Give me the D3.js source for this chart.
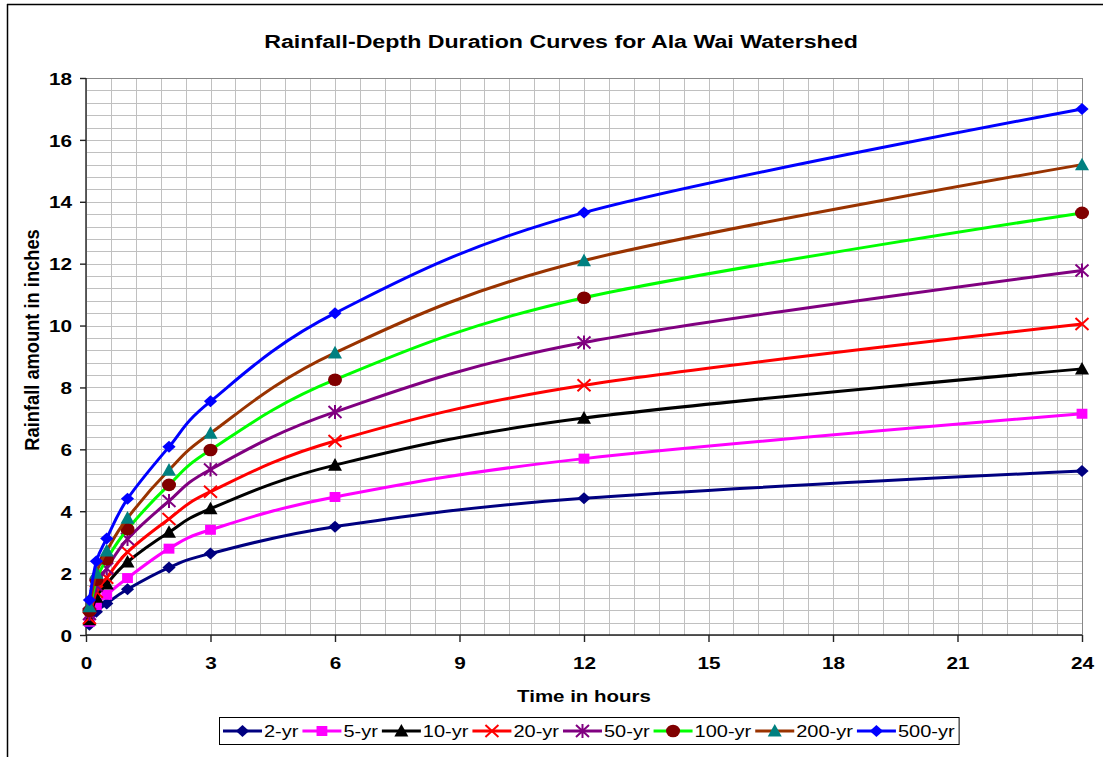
<!DOCTYPE html>
<html>
<head>
<meta charset="utf-8">
<script src="https://cdn.jsdelivr.net/npm/d3@7"></script>
<style>
  html, body { margin: 0; padding: 0; background: #fff; }
  svg { display: block; }
  text { font-family: Arial, "Liberation Sans", sans-serif; fill: #000; }
</style>
</head>
<body>
<svg id="chart" width="1103" height="757"></svg>
<script>
// ---------- data ----------
const hours = [0.083, 0.25, 0.5, 1, 2, 3, 6, 12, 24];
const seriesNames = ["2-yr", "5-yr", "10-yr", "20-yr", "50-yr", "100-yr", "200-yr", "500-yr"];
const yr2   = [0.33, 0.75, 1.02, 1.48, 2.18, 2.63, 3.50, 4.42, 5.30];
const yr5   = [0.43, 0.97, 1.30, 1.84, 2.79, 3.40, 4.46, 5.70, 7.15];
const yr10  = [0.50, 1.22, 1.65, 2.36, 3.32, 4.08, 5.49, 7.01, 8.60];
const yr20  = [0.55, 1.40, 1.85, 2.68, 3.75, 4.63, 6.27, 8.07, 10.05];
const yr50  = [0.68, 1.60, 2.15, 3.10, 4.33, 5.35, 7.21, 9.45, 11.78];
const yr100 = [0.78, 1.78, 2.45, 3.42, 4.85, 5.98, 8.25, 10.90, 13.64];
const yr200 = [0.92, 2.00, 2.72, 3.78, 5.33, 6.52, 9.12, 12.10, 15.20];
const yr500 = [1.13, 2.38, 3.12, 4.40, 6.08, 7.55, 10.40, 13.65, 17.00];
const seriesValues = [yr2, yr5, yr10, yr20, yr50, yr100, yr200, yr500];
const xTicks = [0, 3, 6, 9, 12, 15, 18, 21, 24];
const yTicks = [0, 2, 4, 6, 8, 10, 12, 14, 16, 18];
const titleText = "Rainfall-Depth Duration Curves for Ala Wai Watershed";
const xLabelText = "Time in hours";
const yLabelText = "Rainfall amount in inches";

// ---------- styles ----------
const lineColors   = ["#000080", "#FF00FF", "#000000", "#FF0000", "#800080", "#00FF00", "#993300", "#0000FF"];
const markerColors = ["#000080", "#FF00FF", "#000000", "#FF0000", "#800080", "#800000", "#008080", "#0000FF"];
const markerTypes  = ["diamond", "square", "triangle", "x", "star", "circle", "triangle", "diamond"];
const SX = 1.22; // horizontal text stretch

const svg = d3.select("#chart");
const W = 1103, H = 757;
const plot = { left: 86, right: 1082, top: 78, bottom: 635 };

const x = d3.scaleLinear().domain([0, 24]).range([plot.left, plot.right]);
const y = d3.scaleLinear().domain([0, 18]).range([plot.bottom, plot.top]);

// outer frame (only left & top visible)
svg.append("line").attr("x1", 7.5).attr("x2", 7.5).attr("y1", 4).attr("y2", H).attr("stroke", "#000").attr("stroke-width", 1.5);
svg.append("line").attr("x1", 7).attr("x2", W).attr("y1", 4.5).attr("y2", 4.5).attr("stroke", "#000").attr("stroke-width", 1.5);

// grid
const grid = svg.append("g");
const vGrid = d3.range(0, 24.0001, 0.6);
const hGrid = d3.range(0, 18.0001, 0.4);
grid.selectAll(".vg").data(vGrid).enter().append("line")
  .attr("x1", d => Math.round(x(d)) + 0.5).attr("x2", d => Math.round(x(d)) + 0.5)
  .attr("y1", plot.top).attr("y2", plot.bottom)
  .attr("stroke", "#c0c0c0").attr("stroke-width", 1);
grid.selectAll(".hg").data(hGrid).enter().append("line")
  .attr("x1", plot.left).attr("x2", plot.right)
  .attr("y1", d => Math.round(y(d)) + 0.5).attr("y2", d => Math.round(y(d)) + 0.5)
  .attr("stroke", "#c0c0c0").attr("stroke-width", 1);
svg.append("line").attr("x1", plot.left).attr("x2", plot.right).attr("y1", plot.top + 0.5).attr("y2", plot.top + 0.5).attr("stroke", "#888");
svg.append("line").attr("x1", plot.right + 0.5).attr("x2", plot.right + 0.5).attr("y1", plot.top).attr("y2", plot.bottom).attr("stroke", "#888");

// axes
const xAxis = d3.axisBottom(x).tickValues(xTicks).tickSize(7).tickFormat(d3.format("d"));
const yAxis = d3.axisLeft(y).tickValues(yTicks).tickSize(6).tickFormat(d3.format("d"));
const gx = svg.append("g").attr("transform", `translate(0,${plot.bottom})`).call(xAxis);
const gy = svg.append("g").attr("transform", `translate(${plot.left},0)`).call(yAxis);
[gx, gy].forEach(g => {
  g.select(".domain").attr("stroke", "#222").attr("stroke-width", 1.4);
  g.selectAll(".tick line").attr("stroke", "#222").attr("stroke-width", 1.4);
  g.selectAll(".tick text").attr("font-size", 17).attr("font-weight", "bold")
    .attr("font-family", "Arial, 'Liberation Sans', sans-serif").attr("fill", "#000");
});
gx.select(".domain").attr("d", `M${plot.left},0H${plot.right}`);
gy.select(".domain").attr("d", `M0,${plot.bottom}V${plot.top}`);
gx.selectAll(".tick text").attr("y", 0).attr("dy", 0)
  .attr("transform", `translate(0,34) scale(${SX},1)`);
gy.selectAll(".tick text").attr("x", 0).attr("dy", "0.36em")
  .attr("transform", `translate(-14,0) scale(${SX},1)`);

// title & labels
function hText(str, cx, cy, size, weight, anchor) {
  return svg.append("text").text(str)
    .attr("transform", `translate(${cx},${cy}) scale(${SX},1)`)
    .attr("text-anchor", anchor || "middle")
    .attr("font-size", size).attr("font-weight", weight);
}
hText(titleText, 561, 48, 19, "bold");
hText(xLabelText, 584, 702, 16.8, "bold");
svg.append("text").text(yLabelText)
  .attr("transform", `translate(39,340) scale(1.1,1) rotate(-90)`)
  .attr("text-anchor", "middle").attr("font-size", 18.3).attr("font-weight", "bold");

// markers
function drawMarker(g, type, color, cx, cy) {
  const m = g.append("g").attr("transform", `translate(${cx},${cy})`);
  if (type === "diamond") {
    m.append("path").attr("d", "M0,-6L6.6,0L0,6L-6.6,0Z").attr("fill", color);
  } else if (type === "square") {
    m.append("rect").attr("x", -5.4).attr("y", -5).attr("width", 10.8).attr("height", 10).attr("fill", color);
  } else if (type === "triangle") {
    m.append("path").attr("d", "M0,-7L7,5.6L-7,5.6Z").attr("fill", color);
  } else if (type === "circle") {
    m.append("ellipse").attr("rx", 7).attr("ry", 6.3).attr("fill", color);
  } else if (type === "x") {
    m.append("path").attr("d", "M-6.5,-6L6.5,6M-6.5,6L6.5,-6").attr("stroke", color).attr("stroke-width", 2).attr("fill", "none");
  } else if (type === "star") {
    m.append("path").attr("d", "M-6.5,-6L6.5,6M-6.5,6L6.5,-6M0,-7V7").attr("stroke", color).attr("stroke-width", 2).attr("fill", "none");
  }
}

// series
const line = d3.line().x(d => x(d[0])).y(d => y(d[1])).curve(d3.curveCardinal.tension(0));
const seriesG = svg.append("g");
seriesNames.forEach((name, i) => {
  const pts = hours.map((h, j) => [h, seriesValues[i][j]]);
  const g = seriesG.append("g");
  g.append("path").attr("d", line(pts)).attr("fill", "none")
    .attr("stroke", lineColors[i]).attr("stroke-width", 3).attr("stroke-linejoin", "round");
  pts.forEach(p => drawMarker(g, markerTypes[i], markerColors[i], x(p[0]), y(p[1])));
});

// legend
const legG = svg.append("g");
const legY = 731;
let cur = 223;
seriesNames.forEach((name, i) => {
  legG.append("line").attr("x1", cur).attr("x2", cur + 39).attr("y1", legY).attr("y2", legY)
    .attr("stroke", lineColors[i]).attr("stroke-width", 3);
  drawMarker(legG, markerTypes[i], markerColors[i], cur + 19.5, legY);
  const t = legG.append("text").text(name)
    .attr("transform", `translate(${cur + 41},${legY + 6}) scale(${SX},1)`)
    .attr("font-size", 16.4);
  cur += 41 + t.node().getComputedTextLength() * SX + 4;
});
legG.insert("rect", ":first-child").attr("x", 219.5).attr("y", 717.5).attr("width", cur - 219).attr("height", 27)
  .attr("fill", "#fff").attr("stroke", "#000").attr("stroke-width", 1);
</script>
</body>
</html>
